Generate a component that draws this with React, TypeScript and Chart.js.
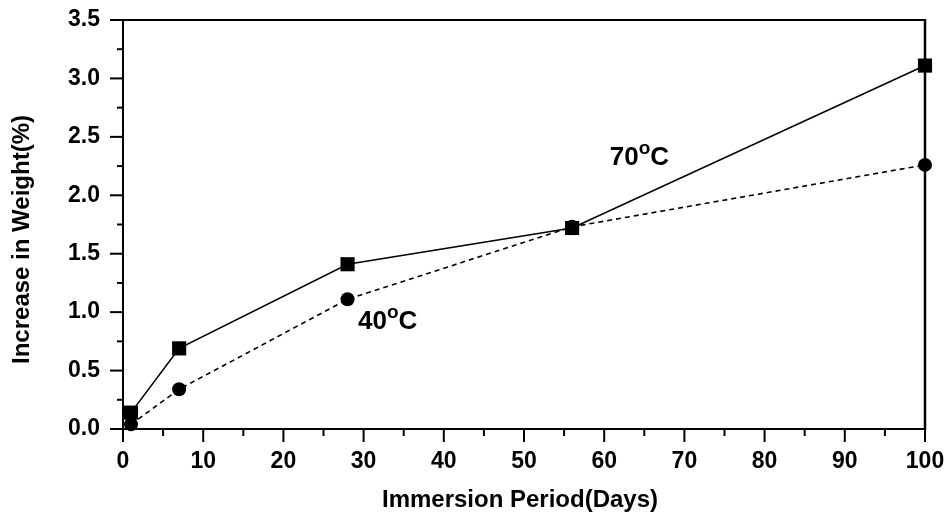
import React, { useEffect, useRef } from "react";
import { Chart, registerables } from "chart.js";

Chart.register(...registerables);

// Immersion period in days and the weight gain (%) measured at each temperature
const days = [1, 7, 28, 56, 100];
const gain70 = [0.14, 0.69, 1.41, 1.72, 3.11];
const gain40 = [0.04, 0.34, 1.11, 1.73, 2.26];

const seriesTemps = ["70", "40"];
const xTitle = "Immersion Period(Days)";
const yTitle = "Increase in Weight(%)";

// where each series' temperature label sits, in data units (left edge, baseline)
const label70 = { x: 60.7, y: 2.26 };
const label40 = { x: 29.3, y: 0.856 };

const xRange = { min: 0, max: 100, major: 10, minor: 5 };
const yRange = { min: 0, max: 3.5, major: 0.5, minor: 0.25 };

const FAMILY = '"Liberation Sans", Arial, Helvetica, sans-serif';

const frameAndLabels = {
  id: "frameAndLabels",
  beforeDatasetsDraw(chart: any) {
    const ctx: CanvasRenderingContext2D = chart.ctx;
    const { left, right, top, bottom } = chart.chartArea;
    const xs = chart.scales.x;
    const ys = chart.scales.y;
    const line = (x1: number, y1: number, x2: number, y2: number) => {
      ctx.beginPath();
      ctx.moveTo(x1, y1);
      ctx.lineTo(x2, y2);
      ctx.stroke();
    };
    ctx.save();
    ctx.strokeStyle = "#000";
    ctx.lineCap = "butt";

    // closing top and right edges of the box
    ctx.lineWidth = 2;
    line(left - 1, top, right + 1, top);
    ctx.lineWidth = 2.5;
    line(right, top - 1, right, bottom + 1);

    // outward tick marks, major and minor
    ctx.lineWidth = 2;
    const nY = Math.round((yRange.max - yRange.min) / yRange.minor);
    for (let i = 0; i <= nY; i++) {
      const v = yRange.min + i * yRange.minor;
      const py = ys.getPixelForValue(v);
      const major = i % Math.round(yRange.major / yRange.minor) === 0;
      line(left - (major ? 13 : 6), py, left, py);
    }
    const nX = Math.round((xRange.max - xRange.min) / xRange.minor);
    for (let i = 0; i <= nX; i++) {
      const v = xRange.min + i * xRange.minor;
      const px = xs.getPixelForValue(v);
      const major = i % Math.round(xRange.major / xRange.minor) === 0;
      line(px, bottom, px, bottom + (major ? 13 : 7));
    }

    // axis titles
    ctx.fillStyle = "#000";
    ctx.font = `bold 24px ${FAMILY}`;
    ctx.textAlign = "center";
    ctx.textBaseline = "alphabetic";
    ctx.fillText(xTitle, (left + right) / 2 - 4, 507);
    ctx.save();
    ctx.translate(29, (top + bottom) / 2 + 15);
    ctx.rotate(-Math.PI / 2);
    ctx.fillText(yTitle, 0, 0);
    ctx.restore();

    // temperature labels with a raised degree ring
    const tempLabel = (num: string, at: { x: number; y: number }) => {
      const x0 = xs.getPixelForValue(at.x);
      const y0 = ys.getPixelForValue(at.y);
      ctx.textAlign = "left";
      ctx.font = `bold 26px ${FAMILY}`;
      ctx.fillText(num, x0, y0);
      let x = x0 + ctx.measureText(num).width;
      ctx.font = `bold 19px ${FAMILY}`;
      ctx.fillText("o", x, y0 - 11);
      x += ctx.measureText("o").width;
      ctx.font = `bold 26px ${FAMILY}`;
      ctx.fillText("C", x, y0);
    };
    tempLabel(seriesTemps[0], label70);
    tempLabel(seriesTemps[1], label40);
    ctx.restore();
  },
};

// pin each axis box to a fixed size and drop the label overhang padding
const fixBox = (w: number | null, h: number | null) => (s: any) => {
  if (w !== null) s.width = w;
  if (h !== null) s.height = h;
  s.paddingTop = 0;
  s.paddingBottom = 0;
  s.paddingLeft = 0;
  s.paddingRight = 0;
};

export default function App() {
  const ref = useRef<HTMLCanvasElement | null>(null);

  useEffect(() => {
    if (!ref.current) return;
    const tickFont = { family: FAMILY, size: 23, weight: "bold" as const };
    const chart = new Chart(ref.current, {
      type: "line",
      data: {
        datasets: [
          {
            label: seriesTemps[0],
            data: days.map((d, i) => ({ x: d, y: gain70[i] })),
            borderColor: "#000",
            backgroundColor: "#000",
            borderWidth: 1.6,
            pointStyle: "rect",
            pointRadius: 10,
            pointBorderWidth: 0,
            pointBackgroundColor: "#000",
            tension: 0,
            clip: false,
          },
          {
            label: seriesTemps[1],
            data: days.map((d, i) => ({ x: d, y: gain40[i] })),
            borderColor: "#000",
            backgroundColor: "#000",
            borderWidth: 1.6,
            borderDash: [5, 4],
            pointStyle: "circle",
            pointRadius: 7,
            pointBorderWidth: 0,
            pointBackgroundColor: "#000",
            tension: 0,
            clip: false,
          },
        ],
      },
      options: {
        animation: false,
        responsive: false,
        layout: { autoPadding: false, padding: { top: 20, right: 26, left: 0, bottom: 0 } },
        plugins: {
          legend: { display: false },
          tooltip: { enabled: false },
        },
        scales: {
          x: {
            type: "linear",
            min: xRange.min,
            max: xRange.max,
            grid: { display: false, drawTicks: false },
            border: { display: true, color: "#000", width: 2 },
            ticks: {
              stepSize: xRange.major,
              autoSkip: false,
              maxRotation: 0,
              color: "#000",
              font: tickFont,
              padding: 19,
            },
            afterFit: fixBox(null, 84),
          },
          y: {
            type: "linear",
            min: yRange.min,
            max: yRange.max,
            grid: { display: false, drawTicks: false },
            border: { display: true, color: "#000", width: 2 },
            ticks: {
              stepSize: yRange.major,
              color: "#000",
              font: tickFont,
              padding: 23,
              callback: (v: any) => Number(v).toFixed(1),
            },
            afterFit: fixBox(123, null),
          },
        },
      },
      plugins: [frameAndLabels],
    });
    return () => chart.destroy();
  }, []);

  return (
    <div style={{ position: "fixed", left: 0, top: 0, width: 951, height: 513, background: "#fff" }}>
      <canvas ref={ref} width={951} height={513} style={{ display: "block" }} />
    </div>
  );
}
